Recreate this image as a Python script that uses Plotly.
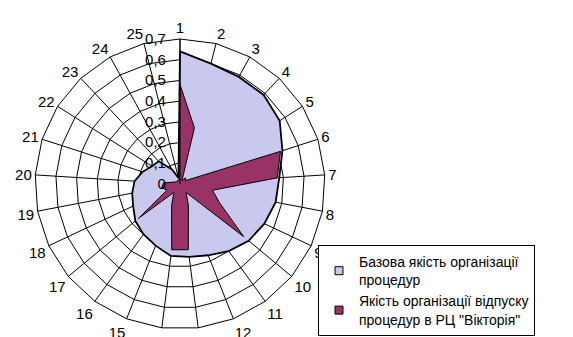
import plotly.graph_objects as go

categories = [str(i) for i in range(1, 26)]
base_quality = [0.64, 0.60, 0.59, 0.59, 0.57, 0.52, 0.48, 0.47, 0.45, 0.43,
                0.40, 0.37, 0.355, 0.35, 0.32, 0.30, 0.28, 0.25, 0.235, 0.22,
                0.19, 0.16, 0.15, 0.08, 0.03]
victoria_quality = [0.48, 0.28, 0.02, 0.04, 0.03, 0.51, 0.47, 0.16, 0.21, 0.40,
                    0.05, 0.11, 0.32, 0.32, 0.11, 0.05, 0.26, 0.07, 0.09, 0.08,
                    0.03, 0.02, 0.02, 0.02, 0.02]
radial_ticks = [0, 0.1, 0.2, 0.3, 0.4, 0.5, 0.6, 0.7]
radial_labels = ["0", "0,1", "0,2", "0,3", "0,4", "0,5", "0,6", "0,7"]
series_names = ["Базова якість організації<br>процедур",
                "Якість організації відпуску<br>процедур в РЦ \"Вікторія\""]
series_fills = ["#c9c9ef", "#993366"]

def closed(vals):
    return vals + vals[:1]

fig = go.Figure()
fig.add_trace(go.Scatterpolar(
    r=closed(base_quality), theta=closed(categories), mode="lines",
    fill="toself", fillcolor=series_fills[0], line=dict(color="black", width=1.8),
    name=series_names[0], showlegend=False))
fig.add_trace(go.Scatterpolar(
    r=closed(victoria_quality), theta=closed(categories), mode="lines",
    fill="toself", fillcolor=series_fills[1], line=dict(color="black", width=1),
    name=series_names[1], showlegend=False))
# legend entries with square keys
for name, col in zip(series_names, series_fills):
    fig.add_trace(go.Scatterpolar(
        r=[None], theta=[None], mode="markers", name=name,
        marker=dict(symbol="square", size=8, color=col, line=dict(color="black", width=1))))

pad = "\u00a0" * 2
W, H = 573, 337
cx, cy, R = 180, 184, 145
fig.update_layout(
    width=W, height=H, margin=dict(l=0, r=0, t=0, b=0),
    paper_bgcolor="white", plot_bgcolor="white",
    font=dict(family="Arial, Liberation Sans, sans-serif", size=15, color="black"),
    polar=dict(
        domain=dict(x=[(cx - R) / W, (cx + R) / W], y=[(H - cy - R) / H, (H - cy + R) / H]),
        bgcolor="white", gridshape="linear",
        angularaxis=dict(direction="clockwise", rotation=90, type="category",
                         categoryarray=categories,
                         linecolor="black", linewidth=1, gridcolor="black", gridwidth=1,
                         showline=True, ticks="", tickfont=dict(size=15)),
        radialaxis=dict(range=[0, 0.7], angle=90, tickangle=90,
                        tickvals=radial_ticks, ticktext=[t + pad for t in radial_labels],
                        side="counterclockwise",
                        gridcolor="black", gridwidth=1, linecolor="black", linewidth=1,
                        showline=True, ticks="", tickfont=dict(size=15)),
    ),
    legend=dict(x=318 / W, y=(H - 245) / H, xanchor="left", yanchor="top",
                bordercolor="black", borderwidth=1, bgcolor="white",
                font=dict(size=14), tracegroupgap=0, itemwidth=30),
    showlegend=True,
)
fig.write_html("out.html")
